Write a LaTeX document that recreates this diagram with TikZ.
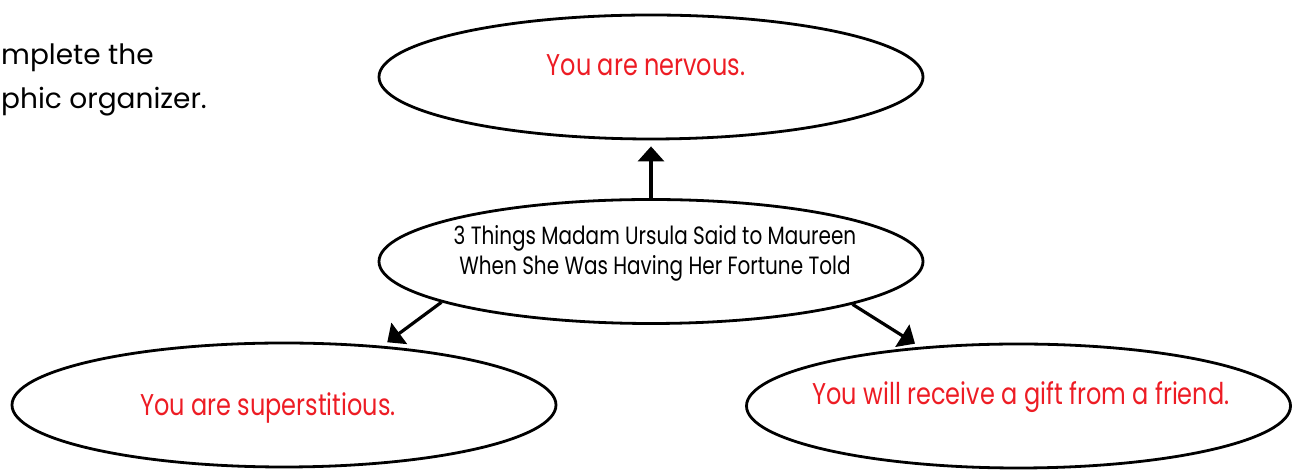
\documentclass[tikz,border=0pt]{standalone}
\usepackage{fontspec}
\setmainfont{Poppins}
\newfontfamily\handfont[FakeStretch=0.8]{Poppins}
\usepackage{xcolor}
\usetikzlibrary{arrows.meta,shapes.geometric}
\definecolor{answerred}{RGB}{237,28,36}

\begin{document}
\begin{tikzpicture}[
	x=1pt, y=1pt,
	bubble/.style={ellipse, draw, line width=2.8pt, minimum width=544pt, minimum height=124pt, inner sep=0pt},
	answer/.style={font=\handfont\fontsize{30}{34}\selectfont, text=answerred, inner sep=0pt},
	topic/.style={font=\handfont\fontsize{25}{30}\selectfont, align=center, inner sep=0pt},
	arr/.style={-{Triangle[width=26pt,length=15pt]}, line width=3.2pt, shorten >=6pt}
]
\useasboundingbox (0,0) rectangle (1301,470);

% instruction text, cut at the left edge
\node[font=\fontsize{28}{44}\selectfont, align=left, anchor=west, inner sep=0pt] (task) at (1,390) {mplete the\\phic organizer.};

\node[bubble] (hub) at (651,208.5) {};
\node[bubble] (nervous) at (651,393) {};
\node[bubble] (superst) at (284,65) {};
\node[bubble] (gift) at (1018.5,64) {};

\node[topic] (hubtext) at (655,217) {3 Things Madam Ursula Said to Maureen\\When She Was Having Her Fortune Told};
\node[answer] (nervoustext) at (646,405) {You are nervous.};
\node[answer] (supersttext) at (268,62) {You are superstitious.};
\node[answer] (gifttext) at (1021,73) {You will receive a gift from a friend.};

\draw[arr] (hub.north -| nervous.south) -- (nervous.south);
\draw[arr] (hub.191.3) -- (superst.31);
\draw[arr] (hub.348.7) -- (gift.149);
\end{tikzpicture}
\end{document}
